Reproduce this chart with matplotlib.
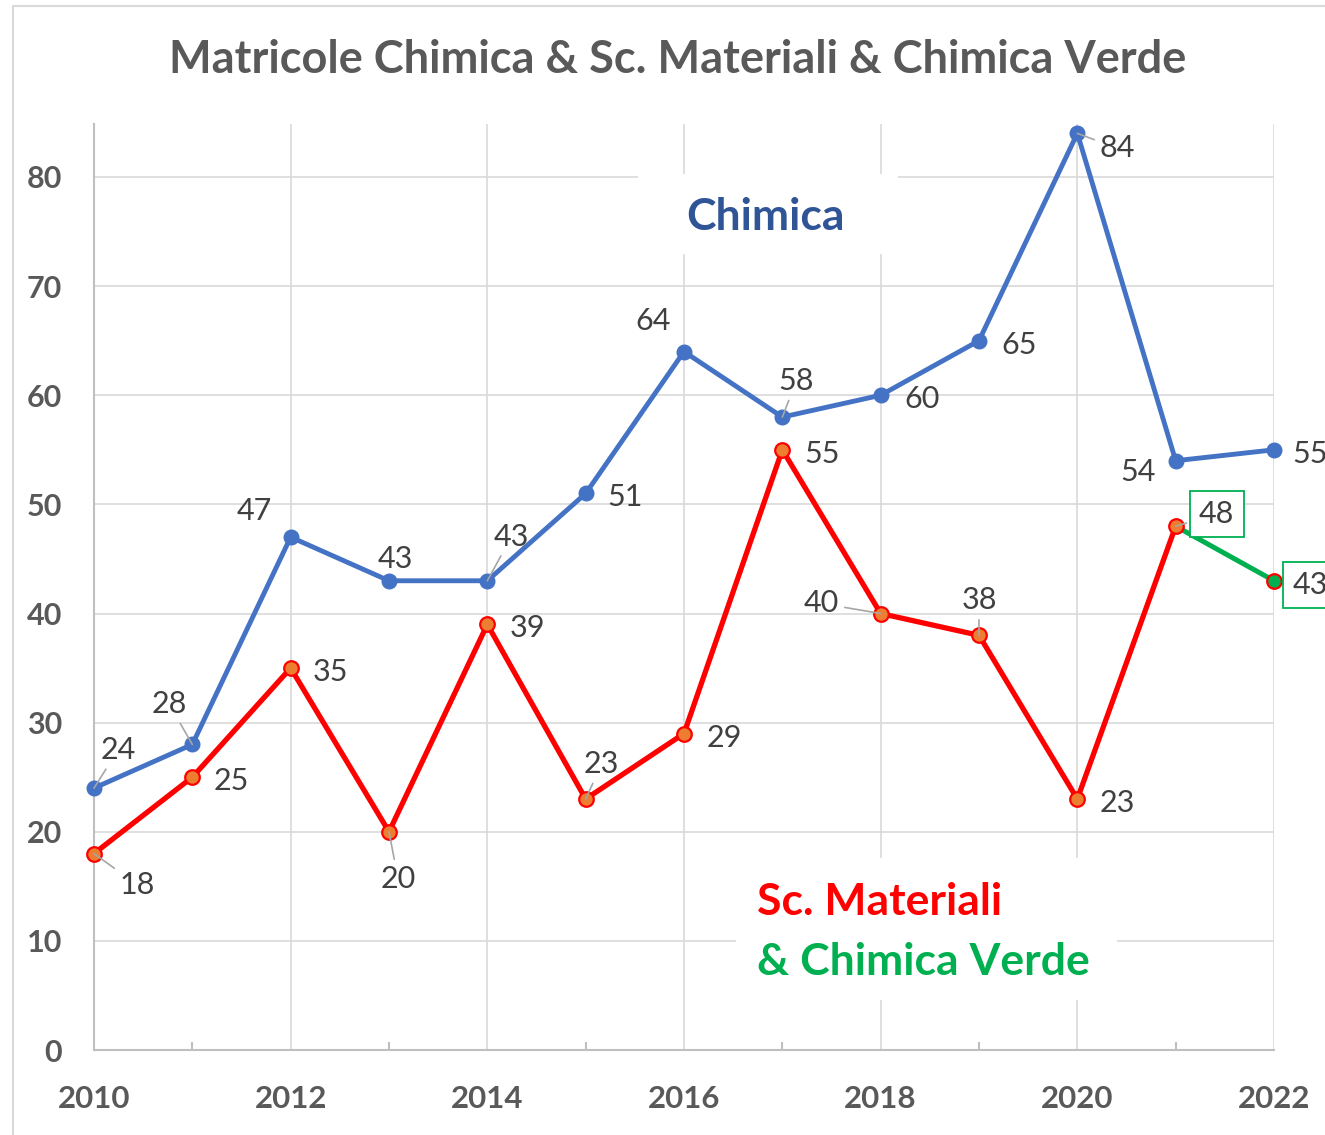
import matplotlib
matplotlib.use("Agg")
import matplotlib.pyplot as plt
from matplotlib.patches import Rectangle

plt.rcParams['font.family'] = ['Lato', 'DejaVu Sans']

#====Data====
years = list(range(2010, 2023))
chimica = [24, 28, 47, 43, 43, 51, 64, 58, 60, 65, 84, 54, 55]
materiali_years = list(range(2010, 2022))
materiali = [18, 25, 35, 20, 39, 23, 29, 55, 40, 38, 23, 48]
verde_years = [2021, 2022]
verde = [48, 43]

#====Label placement (pixel offsets), leader line flag====
chim_off = [(24, 42, 1), (-23, 44, 1), (-36, 30, 0), (6, 26, 0), (24, 48, 1),
            (39, 0, 0), (-31, 35, 0), (14, 40, 1), (41, 0, 0), (40, 0, 0),
            (40, -11, 1), (-38, -7, 0), (36, 0, 0)]
mat_off = [(43, -27, 1), (39, 0, 0), (40, 0, 0), (9, -43, 1), (40, 0, 0),
           (16, 39, 1), (40, 0, 0), (40, 0, 0), (-59, 14, 1), (0, 39, 1),
           (40, 0, 0), (41, 16, 1)]
verde_off = (36, 0, 0)

BLUE = '#4472C4'
RED = '#FF0000'
ORANGE = '#ED7D31'
GREEN = '#00B050'
LBL = '#404040'
AX = '#595959'

W, H = 1325, 1135
fig = plt.figure(figsize=(W / 100, H / 100), dpi=100)
ax = fig.add_axes([94 / W, 1 - 1050 / H, (1274 - 94) / W, (1050 - 124) / H])
ax.set_xlim(2010, 2022)
ax.set_ylim(0, (1050 - 124) / 10.9125)

# chart border (cropped on right/bottom)
fig.add_artist(Rectangle((13 / W, -0.1), 2, 1 - 6 / H + 0.1, fill=False,
                         edgecolor='#D9D9D9', lw=1.5, transform=fig.transFigure))

ax.set_xticks(range(2010, 2023, 2))
ax.set_xticks(range(2011, 2022, 2), minor=True)
ax.set_yticks(range(0, 81, 10))
ax.grid(True, which='major', color='#D9D9D9', lw=1.2)
ax.set_axisbelow(True)
for s in ['top', 'right']:
    ax.spines[s].set_visible(False)
for s in ['left', 'bottom']:
    ax.spines[s].set_color('#BFBFBF')
    ax.spines[s].set_linewidth(1.5)
ax.tick_params(axis='x', which='major', length=0, pad=25, labelsize=22.5, labelcolor=AX)
ax.tick_params(axis='x', which='minor', length=6, width=1.5, direction='in', color='#BFBFBF')
ax.tick_params(axis='y', length=0, pad=23, labelsize=22, labelcolor=AX)
for t in ax.get_xticklabels() + ax.get_yticklabels():
    t.set_fontweight('bold')

# white boxes behind the free text (hide gridlines)
ax.add_patch(Rectangle((638 / W, 1 - 254 / H), 260 / W, 80 / H, transform=fig.transFigure,
                       facecolor='white', edgecolor='none', zorder=1, clip_on=False))
ax.add_patch(Rectangle((736 / W, 1 - 1000 / H), 381 / W, 142 / H, transform=fig.transFigure,
                       facecolor='white', edgecolor='none', zorder=1, clip_on=False))

#====Lines====
ax.plot(years, chimica, color=BLUE, lw=3.5, marker='o', ms=10.5, zorder=3, clip_on=False)
ax.plot(materiali_years, materiali, color=RED, lw=3.8, zorder=3, clip_on=False)
ax.plot(verde_years, verde, color=GREEN, lw=3.6, zorder=3.5, clip_on=False)
ax.plot(materiali_years, materiali, ls='none', marker='o', ms=10.5, mfc=ORANGE, mec=RED,
        mew=1.6, zorder=4, clip_on=False)
ax.plot(verde_years[1:], verde[1:], ls='none', marker='o', ms=10.5, mfc=GREEN, mec=RED,
        mew=1.6, zorder=4, clip_on=False)


def label(x, y, off, boxed=False):
    dx, dy, lead = off
    kw = dict(xy=(x, y), xytext=(dx, dy - 4), textcoords='offset pixels', ha='center',
              va='center', fontsize=22, color=LBL, zorder=5, annotation_clip=False)
    if lead:
        kw['arrowprops'] = dict(arrowstyle='-', color='#A6A6A6', lw=1.2, shrinkA=2, shrinkB=0)
    if boxed:
        kw['bbox'] = dict(boxstyle='square,pad=0.3', fc='white', ec=GREEN, lw=1.3)
    ax.annotate(str(y), **kw)


for x, y, o in zip(years, chimica, chim_off):
    label(x, y, o)
for x, y, o in zip(materiali_years, materiali, mat_off):
    label(x, y, o, boxed=(x == 2021))
label(verde_years[1], verde[1], verde_off, boxed=True)

#====Texts====
fig.text(678 / W, 1 - 60 / H, 'Matricole Chimica & Sc. Materiali & Chimica Verde',
         ha='center', va='center', fontsize=32.5, fontweight='bold', color=AX)
fig.text(766 / W, 1 - 217 / H, 'Chimica', ha='center', va='center', fontsize=32,
         fontweight='bold', color='#2F5597')
fig.text(757 / W, 1 - 902 / H, 'Sc. Materiali', ha='left', va='center', fontsize=32,
         fontweight='bold', color=RED)
fig.text(757 / W, 1 - 962 / H, '& Chimica Verde', ha='left', va='center', fontsize=32,
         fontweight='bold', color=GREEN)

fig.savefig('out.png', dpi=100)
